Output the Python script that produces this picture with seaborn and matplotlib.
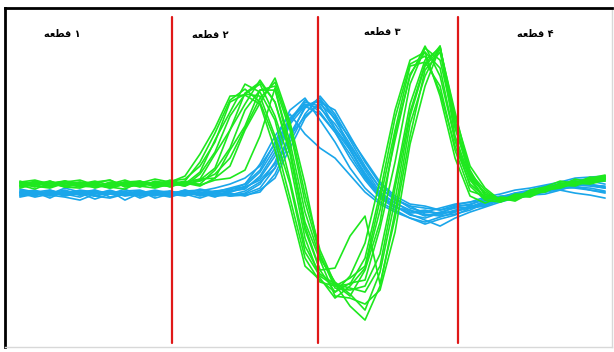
import pandas as pd
import seaborn as sns
import matplotlib.pyplot as plt

# sample index (40 samples across the record)
samples = list(range(40))

# green traces (amplitude, arbitrary units)
green_traces = [
    [6, 8, 4, 7, 3, 5, 8, 2, 5, 9, 6, 12, 34, 60, 92, 93, 84, 38, -18, -78, -92, -104, -88,
     -55, 8, 78, 128, 136, 92, 30, -8, -15, -9, -10, -2, 1, 7, 5, 11, 9],
    [3, -1, 5, 7, 2, 4, 1, 6, 5, 2, 8, 4, 16, 48, 76, 104, 96, 68, 8, -58, -86, -96, -108,
     -82, -34, 54, 112, 142, 112, 48, 2, -12, -14, -7, -8, 0, 2, 9, 6, 12],
    [1, 5, 2, 6, 8, 3, 0, 4, 7, 3, 2, 6, 9, 34, 58, 95, 106, 86, 34, -42, -82, -104, -95,
     -92, -40, 26, 104, 140, 128, 62, 12, -6, -14, -9, -4, -3, 5, 4, 10, 13],
    [7, 2, 0, 5, 3, 6, 8, 1, 3, 6, 5, 2, 8, 20, 58, 84, 108, 86, 38, -38, -82, -80, -48,
     -28, -96, -30, 52, 118, 136, 68, 10, -4, -13, -8, -7, 0, 1, 7, 5, 10],
    [2, 6, 5, 1, 4, 7, 3, 6, 2, 0, 4, 5, 2, 10, 22, 58, 85, 110, 66, 4, -68, -96, -118,
     -132, -98, -24, 64, 112, 142, 64, 18, -8, -10, -13, -5, -4, 3, 2, 8, 7],
    [5, 1, 7, 2, 6, 0, 4, 8, 3, 4, 6, 3, 9, 10, 38, 62, 98, 102, 58, -14, -66, -100, -102,
     -98, -66, 6, 84, 128, 140, 52, 10, -10, -11, -12, -5, -3, 4, 3, 9, 11],
    [4, 2, 1, 7, 5, 3, 1, -1, 6, 5, 7, 9, 22, 46, 86, 94, 92, 52, 4, -64, -88, -98, -90,
     -78, -12, 58, 122, 126, 102, 38, -3, -8, -13, -6, -6, 1, 2, 7, 5, 10],
    [2, 7, 3, 5, 1, 5, 0, 4, 2, 6, 1, 6, 3, 8, 10, 18, 52, 100, 38, -34, -72, -108, -110,
     -116, -102, -44, 44, 102, 141, 72, 22, 0, -12, -8, -9, -2, 0, 5, 4, 8],
    [6, 3, 6, 1, 0, 5, 2, 6, 7, 1, 5, 2, 14, 36, 72, 94, 104, 72, 26, -50, -90, -110, -98,
     -80, -22, 48, 114, 136, 120, 48, 8, -11, -10, -11, -3, -2, 5, 4, 9, 9],
    [0, 4, 6, 3, 2, 1, 6, 4, 5, 3, 2, 5, 4, 18, 40, 78, 98, 98, 46, -24, -70, -94, -106,
     -122, -84, -12, 72, 122, 139, 76, 15, -2, -13, -9, -8, -1, 0, 6, 6, 9],
    [5, 6, 2, 4, 6, 4, 3, 5, 1, 7, 4, 7, 26, 55, 88, 99, 86, 48, -10, -70, -94, -98, -96,
     -70, -5, 70, 124, 132, 96, 42, 4, -9, -12, -10, -6, 0, 4, 6, 7, 10],
    [3, 4, 7, 2, 5, 2, 5, 3, 6, 4, 6, 4, 7, 14, 30, 60, 90, 106, 62, -6, -62, -96, -100,
     -104, -78, 0, 76, 124, 142, 60, 14, -6, -12, -10, -6, -2, 3, 5, 8, 12],
]

# blue traces
blue_traces = [
    [-4, -8, -2, -6, -9, -3, -6, -1, -8, -4, -7, -2, -5, -9, -3,
     -1, 12, 36, 68, 88, 76, 56, 30, 8, -10, -20, -22, -28, -24, -20, -19, -13, -11, -6, -7, 0, 1, 5, 3, 2],
    [-7, -4, -10, -3, -6, -2, -9, -5, -3, -10, -6, -3, -7, -4, -8,
     -5, 4, 26, 64, 82, 87, 60, 40, 13, -7, -14, -24, -22, -26, -18, -17, -10, -10, -5, -4, 2, 2, 6, 3, 0],
    [-2, -5, -6, 0, -4, -8, -3, -12, -5, -2, -5, -6, -1, -4, 0,
     4, 18, 46, 78, 90, 68, 46, 20, 0, -14, -22, -30, -34, -29, -24, -18, -16, -11, -10, -5, -4, 0, 2, -2, -4],
    [-9, -6, -4, -8, -5, -11, -6, -4, -8, -6, -9, -4, -8, -5, -2,
     4, 24, 52, 74, 54, 40, 30, 13, -4, -16, -24, -30, -36, -31, -27, -20, -18, -12, -11, -7, -6, -2, -5, -7, -10],
    [-5, -9, -6, -3, -5, -8, -10, -6, -3, -5, -8, -6, -10, -5, -8,
     -7, -4, 14, 46, 74, 92, 74, 48, 22, 0, -12, -18, -20, -22, -17, -14, -9, -6, -2, 0, 3, 6, 10, 11, 12],
    [-1, -4, -2, -7, -4, -2, -6, -3, -2, -7, -5, -3, -2, -6, -4,
     2, 16, 40, 70, 82, 74, 56, 34, 10, -8, -18, -25, -24, -20, -16, -14, -12, -8, -7, -3, -3, 1, 0, -2, -5],
    [-8, -5, -7, -9, -12, -6, -4, -8, -6, -4, -3, -7, -5, -8, -7,
     -6, 0, 20, 54, 80, 90, 68, 44, 20, 0, -11, -18, -26, -28, -26, -22, -15, -13, -8, -7, -3, -2, 3, 2, 0],
    [-4, -2, -7, -5, -3, -6, -2, -7, -5, -3, -6, -2, -7, -3, -4,
     0, 10, 32, 66, 86, 82, 58, 38, 12, -9, -18, -27, -30, -25, -24, -18, -17, -10, -9, -4, -3, 2, 4, 7, 4],
    [-7, -3, -5, -2, -7, -4, -6, -3, -10, -5, -7, -3, -5, -3, -1,
     1, 8, 24, 52, 72, 84, 70, 50, 28, 6, -8, -16, -18, -22, -19, -16, -12, -9, -5, -2, 2, 4, 8, 9, 10],
    [-5, -7, -3, -6, -2, -4, -6, -7, -4, -8, -3, -6, -4, -5, -7,
     -3, 6, 20, 50, 82, 88, 72, 38, 15, -6, -18, -26, -32, -38, -30, -24, -19, -14, -10, -7, -4, -1, 1, 0, -3],
    [-3, -6, -8, -4, -7, -5, -3, -5, -7, -4, -6, -8, -3, 0, 4,
     10, 22, 44, 70, 84, 80, 64, 42, 18, -4, -15, -22, -27, -27, -22, -19, -14, -12, -7, -5, -1, 3, 4, 4, 1],
    [-6, -4, -5, -7, -3, -8, -5, -6, -4, -6, -5, -4, -6, -7, -5,
     -8, -2, 10, 40, 70, 86, 78, 52, 26, 4, -10, -20, -24, -25, -23, -20, -15, -10, -6, -3, -1, 2, 5, 6, 7],
]

# segment boundaries (sample index) and labels
boundaries = [10.13, 19.87, 29.2]
# "قطعه n" in visual order, presentation forms (matplotlib does no Arabic shaping)
word = "\uFEEA\uFECC\uFEC4\uFED7"
segment_labels = [word + " \u06F1", word + " \u06F2", word + " \u06F3", word + " \u06F4"]

rows = []
for name, traces in [("blue", blue_traces), ("green", green_traces)]:
    for i, tr in enumerate(traces):
        for s, v in zip(samples, tr):
            rows.append({"sample": s, "amp": v, "group": name, "trace": f"{name}{i}"})
df = pd.DataFrame(rows)

sns.set_style("white")
plt.rcParams['font.family'] = ['DejaVu Sans']

fig = plt.figure(figsize=(6.14, 3.52), dpi=100)
ax = fig.add_axes([0.008, 0.014, 0.989, 0.963])

sns.lineplot(data=df, x="sample", y="amp", hue="group", units="trace", estimator=None,
             palette={"blue": "#1aa6ea", "green": "#1ee81e"}, linewidth=1.2,
             legend=False, ax=ax, sort=False)

for b in boundaries:
    ax.axvline(b, ymin=0.012, ymax=0.973, color="#e01818", linewidth=1.6, zorder=5)

label_x = [0.094, 0.338, 0.621, 0.873]
label_y = [0.923, 0.921, 0.929, 0.923]
for lx, ly, lab in zip(label_x, label_y, segment_labels):
    ax.text(lx, ly, lab, transform=ax.transAxes, ha="center", va="center",
            fontsize=7, fontweight="bold", color="black")

ax.set_xlim(-1, 39.47)
ax.set_ylim(-159, 180)
ax.set_xticks([])
ax.set_yticks([])
ax.set_xlabel("")
ax.set_ylabel("")
for side in ["left", "top"]:
    ax.spines[side].set_color("black")
    ax.spines[side].set_linewidth(2)
for side in ["right", "bottom"]:
    ax.spines[side].set_color("#d8d8d8")
    ax.spines[side].set_linewidth(1)

fig.savefig("out.png", dpi=100)
